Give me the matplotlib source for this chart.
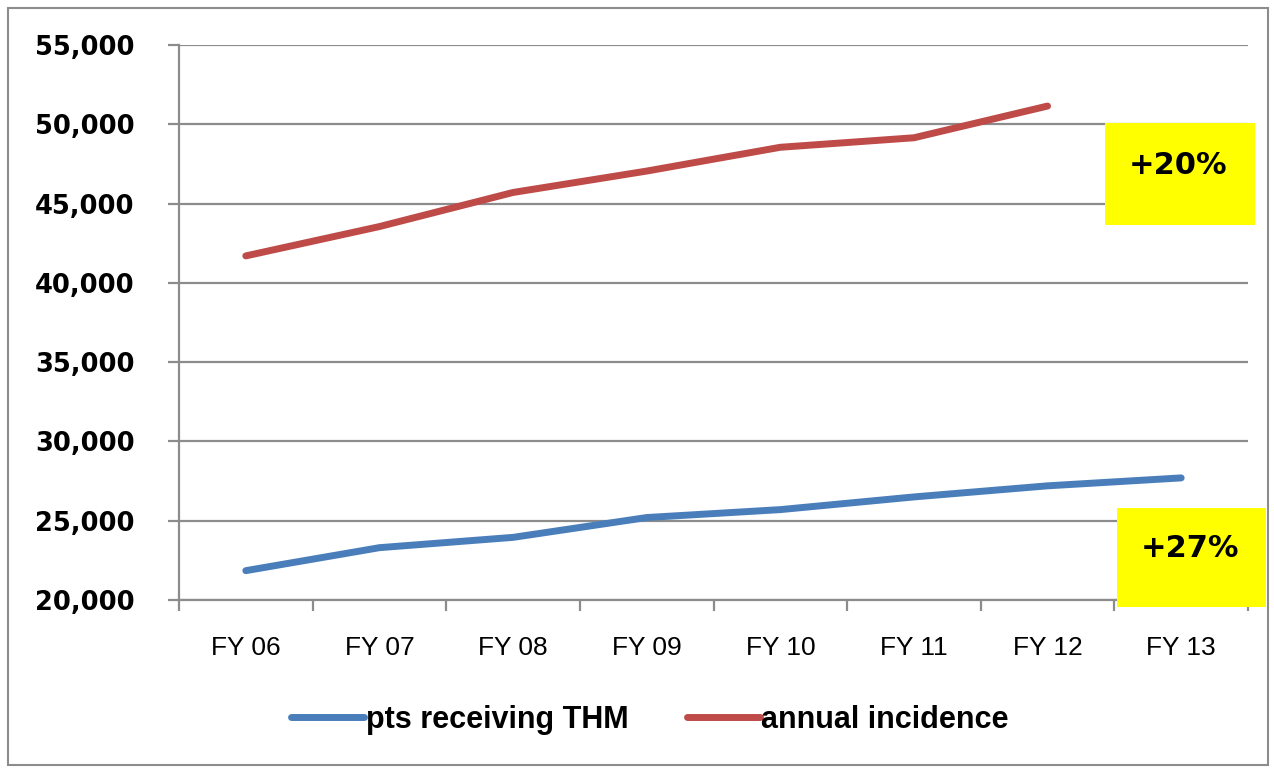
import matplotlib
matplotlib.use("Agg")
import matplotlib.pyplot as plt
from matplotlib.patches import Rectangle
from matplotlib.ticker import FuncFormatter, FixedLocator

# data
years = ["FY 06", "FY 07", "FY 08", "FY 09", "FY 10", "FY 11", "FY 12", "FY 13"]
pts_thm = [21850, 23300, 23950, 25200, 25700, 26500, 27200, 27700]
incidence = [41700, 43550, 45700, 47050, 48550, 49150, 51150]
yticks = [20000, 25000, 30000, 35000, 40000, 45000, 50000, 55000]
badges = ["+20%", "+27%"]

W, H = 1274, 772
fig = plt.figure(figsize=(W / 100, H / 100), dpi=100)
fig.patch.set_facecolor("white")

narrow = ["Liberation Sans", "DejaVu Sans"]
grey = "#8c8c8c"

# outer frame
fig.add_artist(Rectangle((8 / W, 1 - 765 / H), 1260 / W, 757 / H, transform=fig.transFigure,
                         fill=False, edgecolor=grey, lw=1.5))

ax = fig.add_axes([179 / W, 1 - 600 / H, (1248 - 179) / W, (600 - 45) / H])
x = list(range(len(years)))
ax.plot(x, pts_thm, color="#4a7ebb", lw=5, solid_capstyle="round", label="pts receiving THM", zorder=3)
ax.plot(x[:len(incidence)], incidence, color="#be4b48", lw=5, solid_capstyle="round",
        label="annual incidence", zorder=3)

ax.set_xlim(-0.5, len(years) - 0.5)
ax.set_ylim(20000, 55000)
ax.set_yticks(yticks)
ax.yaxis.set_major_formatter(FuncFormatter(lambda v, p: f"{int(v):,}"))
ax.grid(axis="y", color=grey, lw=1.6)
ax.set_axisbelow(True)
for s in ["top", "right"]:
    ax.spines[s].set_visible(False)
for s in ["left", "bottom"]:
    ax.spines[s].set_color(grey)
    ax.spines[s].set_linewidth(1.6)

ax.tick_params(axis="y", length=8, width=1.6, color=grey, pad=24, labelsize=18.5)
for t in ax.get_yticklabels():
    t.set_fontweight("bold")

ax.set_xticks(x)
ax.set_xticklabels(years, family=narrow, fontsize=19)
ax.xaxis.set_minor_locator(FixedLocator([i - 0.5 for i in range(len(years) + 1)]))
ax.tick_params(axis="x", which="major", length=0, pad=26)
ax.tick_params(axis="x", which="minor", length=8, width=1.6, color=grey)

# yellow change badges
for (bx0, by0, bx1, by1), txt in zip([(1105, 123, 1255, 225), (1117, 508, 1266, 607)], badges):
    fig.add_artist(Rectangle((bx0 / W, 1 - by1 / H), (bx1 - bx0) / W, (by1 - by0) / H,
                             transform=fig.transFigure, facecolor="#ffff00", edgecolor="none", zorder=5))
    fig.text(((bx0 + bx1) / 2 - 2) / W, 1 - ((by0 + by1) / 2 - 9) / H, txt, ha="center", va="center",
             fontsize=22, fontweight="bold", zorder=6)

leg = fig.legend(loc="center", bbox_to_anchor=(650 / W, 1 - 720 / H), ncol=2, frameon=False,
                 prop={"family": narrow, "size": 22, "weight": "bold"},
                 handlelength=2.4, handletextpad=0.05, columnspacing=1.9)

fig.savefig("out.png", dpi=100)
